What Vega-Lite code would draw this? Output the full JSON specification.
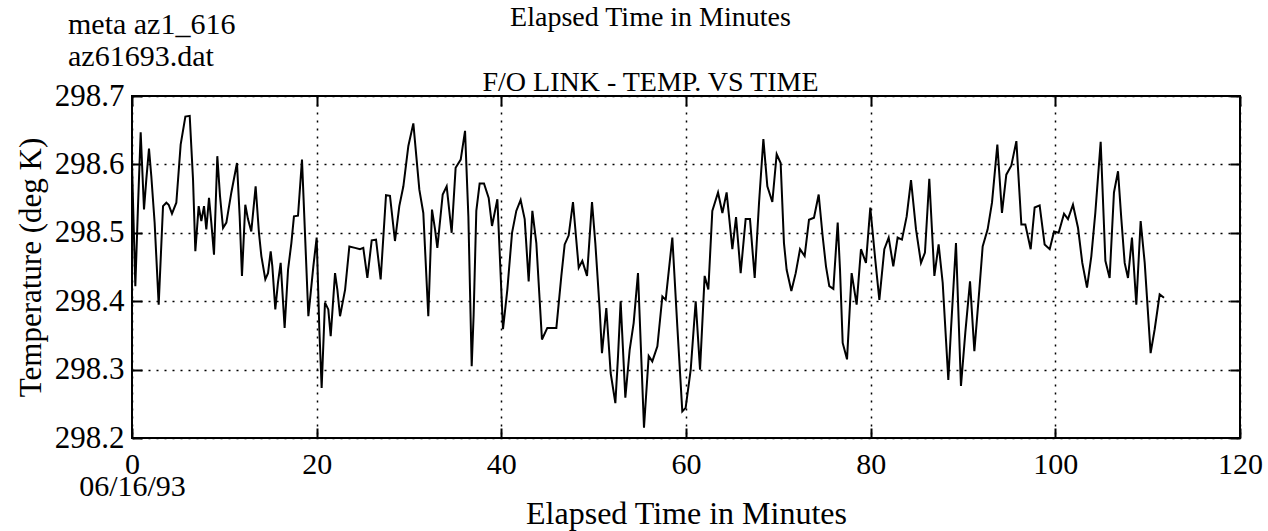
{
  "$schema": "https://vega.github.io/schema/vega-lite/v6.json",
  "autosize": {"type": "none"},
  "width": 1108,
  "height": 342,
  "padding": {"left": 132, "top": 96, "right": 28, "bottom": 93},
  "background": "white",
  "title": {
    "text": ["meta az1_616", "az61693.dat"],
    "anchor": "start",
    "frame": "group",
    "dx": -64,
    "offset": -69,
    "font": "Liberation Serif",
    "fontSize": 30,
    "fontWeight": "normal",
    "lineHeight": 32,
    "color": "black"
  },
  "config": {
    "view": {"stroke": "black", "strokeWidth": 2},
    "axis": {
      "labelFont": "Liberation Serif",
      "titleFont": "Liberation Serif",
      "labelColor": "black",
      "titleColor": "black",
      "titleFontWeight": "normal",
      "domain": false,
      "tickColor": "black",
      "tickWidth": 2,
      "tickSize": -10,
      "gridColor": "black",
      "gridDash": [2, 6],
      "gridWidth": 1.5,
      "gridOpacity": 1
    }
  },
  "data": {
    "values": [
      {"minutes": 0, "temp": 298.600},
      {"minutes": 0.36, "temp": 298.422},
      {"minutes": 0.65, "temp": 298.539},
      {"minutes": 0.94, "temp": 298.647},
      {"minutes": 1.30, "temp": 298.534},
      {"minutes": 1.55, "temp": 298.578},
      {"minutes": 1.84, "temp": 298.623},
      {"minutes": 2.09, "temp": 298.583},
      {"minutes": 2.45, "temp": 298.515},
      {"minutes": 2.89, "temp": 298.395},
      {"minutes": 3.36, "temp": 298.539},
      {"minutes": 3.72, "temp": 298.544},
      {"minutes": 3.97, "temp": 298.541},
      {"minutes": 4.33, "temp": 298.528},
      {"minutes": 4.80, "temp": 298.544},
      {"minutes": 5.27, "temp": 298.629},
      {"minutes": 5.78, "temp": 298.670},
      {"minutes": 6.25, "temp": 298.671},
      {"minutes": 6.61, "temp": 298.578},
      {"minutes": 6.86, "temp": 298.473},
      {"minutes": 7.22, "temp": 298.539},
      {"minutes": 7.51, "temp": 298.517},
      {"minutes": 7.80, "temp": 298.539},
      {"minutes": 8.05, "temp": 298.505},
      {"minutes": 8.34, "temp": 298.551},
      {"minutes": 8.59, "temp": 298.515},
      {"minutes": 8.88, "temp": 298.468},
      {"minutes": 9.24, "temp": 298.612},
      {"minutes": 9.53, "temp": 298.554},
      {"minutes": 9.86, "temp": 298.507},
      {"minutes": 10.22, "temp": 298.515},
      {"minutes": 10.76, "temp": 298.559},
      {"minutes": 11.37, "temp": 298.602},
      {"minutes": 11.66, "temp": 298.524},
      {"minutes": 11.91, "temp": 298.437},
      {"minutes": 12.27, "temp": 298.541},
      {"minutes": 12.56, "temp": 298.520},
      {"minutes": 12.92, "temp": 298.502},
      {"minutes": 13.39, "temp": 298.568},
      {"minutes": 13.75, "temp": 298.500},
      {"minutes": 14.01, "temp": 298.466},
      {"minutes": 14.44, "temp": 298.432},
      {"minutes": 14.73, "temp": 298.441},
      {"minutes": 15.02, "temp": 298.473},
      {"minutes": 15.20, "temp": 298.451},
      {"minutes": 15.52, "temp": 298.388},
      {"minutes": 15.81, "temp": 298.427},
      {"minutes": 16.10, "temp": 298.456},
      {"minutes": 16.53, "temp": 298.361},
      {"minutes": 16.90, "temp": 298.446},
      {"minutes": 17.26, "temp": 298.485},
      {"minutes": 17.54, "temp": 298.524},
      {"minutes": 17.98, "temp": 298.525},
      {"minutes": 18.41, "temp": 298.607},
      {"minutes": 19.10, "temp": 298.378},
      {"minutes": 19.64, "temp": 298.451},
      {"minutes": 20.00, "temp": 298.493},
      {"minutes": 20.29, "temp": 298.359},
      {"minutes": 20.54, "temp": 298.273},
      {"minutes": 20.90, "temp": 298.398},
      {"minutes": 21.26, "temp": 298.388},
      {"minutes": 21.52, "temp": 298.349},
      {"minutes": 21.99, "temp": 298.441},
      {"minutes": 22.24, "temp": 298.417},
      {"minutes": 22.53, "temp": 298.378},
      {"minutes": 23.08, "temp": 298.417},
      {"minutes": 23.54, "temp": 298.480},
      {"minutes": 24.15, "temp": 298.478},
      {"minutes": 24.69, "temp": 298.476},
      {"minutes": 25.05, "temp": 298.478},
      {"minutes": 25.49, "temp": 298.434},
      {"minutes": 25.96, "temp": 298.489},
      {"minutes": 26.43, "temp": 298.490},
      {"minutes": 26.93, "temp": 298.432},
      {"minutes": 27.51, "temp": 298.555},
      {"minutes": 27.94, "temp": 298.554},
      {"minutes": 28.48, "temp": 298.488},
      {"minutes": 28.95, "temp": 298.539},
      {"minutes": 29.39, "temp": 298.568},
      {"minutes": 29.93, "temp": 298.627},
      {"minutes": 30.47, "temp": 298.660},
      {"minutes": 31.12, "temp": 298.563},
      {"minutes": 31.55, "temp": 298.529},
      {"minutes": 32.09, "temp": 298.378},
      {"minutes": 32.49, "temp": 298.534},
      {"minutes": 32.82, "temp": 298.505},
      {"minutes": 33.07, "temp": 298.478},
      {"minutes": 33.65, "temp": 298.556},
      {"minutes": 34.08, "temp": 298.568},
      {"minutes": 34.62, "temp": 298.500},
      {"minutes": 35.05, "temp": 298.595},
      {"minutes": 35.60, "temp": 298.607},
      {"minutes": 36.07, "temp": 298.649},
      {"minutes": 36.43, "temp": 298.524},
      {"minutes": 36.79, "temp": 298.305},
      {"minutes": 37.00, "temp": 298.380},
      {"minutes": 37.29, "temp": 298.532},
      {"minutes": 37.65, "temp": 298.572},
      {"minutes": 38.12, "temp": 298.572},
      {"minutes": 38.63, "temp": 298.551},
      {"minutes": 38.99, "temp": 298.510},
      {"minutes": 39.57, "temp": 298.549},
      {"minutes": 40.18, "temp": 298.359},
      {"minutes": 40.65, "temp": 298.417},
      {"minutes": 41.16, "temp": 298.500},
      {"minutes": 41.62, "temp": 298.532},
      {"minutes": 42.09, "temp": 298.548},
      {"minutes": 42.53, "temp": 298.520},
      {"minutes": 42.96, "temp": 298.429},
      {"minutes": 43.36, "temp": 298.532},
      {"minutes": 43.79, "temp": 298.485},
      {"minutes": 44.40, "temp": 298.344},
      {"minutes": 44.98, "temp": 298.361},
      {"minutes": 45.96, "temp": 298.361},
      {"minutes": 46.50, "temp": 298.437},
      {"minutes": 46.86, "temp": 298.483},
      {"minutes": 47.29, "temp": 298.496},
      {"minutes": 47.76, "temp": 298.545},
      {"minutes": 48.38, "temp": 298.449},
      {"minutes": 48.77, "temp": 298.459},
      {"minutes": 49.28, "temp": 298.437},
      {"minutes": 49.82, "temp": 298.545},
      {"minutes": 50.18, "temp": 298.485},
      {"minutes": 50.65, "temp": 298.388},
      {"minutes": 50.90, "temp": 298.324},
      {"minutes": 51.37, "temp": 298.390},
      {"minutes": 51.84, "temp": 298.295},
      {"minutes": 52.35, "temp": 298.251},
      {"minutes": 52.64, "temp": 298.320},
      {"minutes": 52.92, "temp": 298.400},
      {"minutes": 53.43, "temp": 298.259},
      {"minutes": 53.90, "temp": 298.329},
      {"minutes": 54.33, "temp": 298.368},
      {"minutes": 54.80, "temp": 298.441},
      {"minutes": 55.45, "temp": 298.215},
      {"minutes": 55.96, "temp": 298.320},
      {"minutes": 56.35, "temp": 298.312},
      {"minutes": 56.90, "temp": 298.334},
      {"minutes": 57.44, "temp": 298.407},
      {"minutes": 57.80, "temp": 298.402},
      {"minutes": 58.52, "temp": 298.493},
      {"minutes": 59.06, "temp": 298.363},
      {"minutes": 59.60, "temp": 298.239},
      {"minutes": 59.96, "temp": 298.244},
      {"minutes": 60.51, "temp": 298.300},
      {"minutes": 61.05, "temp": 298.400},
      {"minutes": 61.52, "temp": 298.300},
      {"minutes": 62.02, "temp": 298.437},
      {"minutes": 62.42, "temp": 298.417},
      {"minutes": 62.85, "temp": 298.532},
      {"minutes": 63.47, "temp": 298.559},
      {"minutes": 63.94, "temp": 298.529},
      {"minutes": 64.40, "temp": 298.559},
      {"minutes": 65.02, "temp": 298.476},
      {"minutes": 65.42, "temp": 298.523},
      {"minutes": 65.92, "temp": 298.441},
      {"minutes": 66.46, "temp": 298.520},
      {"minutes": 66.93, "temp": 298.520},
      {"minutes": 67.44, "temp": 298.434},
      {"minutes": 67.91, "temp": 298.544},
      {"minutes": 68.38, "temp": 298.637},
      {"minutes": 68.81, "temp": 298.568},
      {"minutes": 69.35, "temp": 298.545},
      {"minutes": 69.82, "temp": 298.615},
      {"minutes": 70.25, "temp": 298.602},
      {"minutes": 70.61, "temp": 298.485},
      {"minutes": 70.90, "temp": 298.446},
      {"minutes": 71.41, "temp": 298.415},
      {"minutes": 71.88, "temp": 298.441},
      {"minutes": 72.35, "temp": 298.476},
      {"minutes": 72.85, "temp": 298.466},
      {"minutes": 73.32, "temp": 298.519},
      {"minutes": 73.86, "temp": 298.522},
      {"minutes": 74.37, "temp": 298.556},
      {"minutes": 74.80, "temp": 298.495},
      {"minutes": 75.16, "temp": 298.451},
      {"minutes": 75.52, "temp": 298.422},
      {"minutes": 75.96, "temp": 298.418},
      {"minutes": 76.43, "temp": 298.515},
      {"minutes": 76.68, "temp": 298.446},
      {"minutes": 76.97, "temp": 298.339},
      {"minutes": 77.44, "temp": 298.315},
      {"minutes": 77.94, "temp": 298.441},
      {"minutes": 78.48, "temp": 298.395},
      {"minutes": 78.95, "temp": 298.476},
      {"minutes": 79.49, "temp": 298.456},
      {"minutes": 79.96, "temp": 298.537},
      {"minutes": 80.51, "temp": 298.459},
      {"minutes": 80.94, "temp": 298.402},
      {"minutes": 81.48, "temp": 298.476},
      {"minutes": 81.95, "temp": 298.493},
      {"minutes": 82.45, "temp": 298.451},
      {"minutes": 82.92, "temp": 298.493},
      {"minutes": 83.39, "temp": 298.490},
      {"minutes": 83.90, "temp": 298.524},
      {"minutes": 84.37, "temp": 298.577},
      {"minutes": 84.91, "temp": 298.505},
      {"minutes": 85.45, "temp": 298.456},
      {"minutes": 85.88, "temp": 298.471},
      {"minutes": 86.35, "temp": 298.579},
      {"minutes": 86.90, "temp": 298.437},
      {"minutes": 87.36, "temp": 298.483},
      {"minutes": 87.80, "temp": 298.427},
      {"minutes": 88.41, "temp": 298.285},
      {"minutes": 88.70, "temp": 298.359},
      {"minutes": 89.24, "temp": 298.485},
      {"minutes": 89.78, "temp": 298.276},
      {"minutes": 90.25, "temp": 298.354},
      {"minutes": 90.76, "temp": 298.429},
      {"minutes": 91.23, "temp": 298.327},
      {"minutes": 91.77, "temp": 298.417},
      {"minutes": 92.13, "temp": 298.480},
      {"minutes": 92.67, "temp": 298.505},
      {"minutes": 93.14, "temp": 298.544},
      {"minutes": 93.72, "temp": 298.629},
      {"minutes": 94.22, "temp": 298.529},
      {"minutes": 94.69, "temp": 298.585},
      {"minutes": 95.23, "temp": 298.598},
      {"minutes": 95.78, "temp": 298.634},
      {"minutes": 96.32, "temp": 298.512},
      {"minutes": 96.75, "temp": 298.512},
      {"minutes": 97.33, "temp": 298.476},
      {"minutes": 97.76, "temp": 298.537},
      {"minutes": 98.30, "temp": 298.540},
      {"minutes": 98.84, "temp": 298.483},
      {"minutes": 99.39, "temp": 298.476},
      {"minutes": 99.86, "temp": 298.502},
      {"minutes": 100.36, "temp": 298.500},
      {"minutes": 100.94, "temp": 298.528},
      {"minutes": 101.37, "temp": 298.520},
      {"minutes": 101.91, "temp": 298.541},
      {"minutes": 102.46, "temp": 298.507},
      {"minutes": 102.92, "temp": 298.456},
      {"minutes": 103.43, "temp": 298.420},
      {"minutes": 103.90, "temp": 298.466},
      {"minutes": 104.33, "temp": 298.529},
      {"minutes": 104.91, "temp": 298.633},
      {"minutes": 105.42, "temp": 298.459},
      {"minutes": 105.88, "temp": 298.434},
      {"minutes": 106.35, "temp": 298.559},
      {"minutes": 106.79, "temp": 298.590},
      {"minutes": 107.15, "temp": 298.520},
      {"minutes": 107.51, "temp": 298.456},
      {"minutes": 107.87, "temp": 298.434},
      {"minutes": 108.30, "temp": 298.493},
      {"minutes": 108.77, "temp": 298.395},
      {"minutes": 109.24, "temp": 298.517},
      {"minutes": 109.68, "temp": 298.456},
      {"minutes": 110.32, "temp": 298.324},
      {"minutes": 110.76, "temp": 298.359},
      {"minutes": 111.30, "temp": 298.410},
      {"minutes": 111.77, "temp": 298.405}
    ]
  },
  "layer": [
    {
      "mark": {"type": "line", "color": "black", "strokeWidth": 2, "clip": true},
      "encoding": {
        "x": {
          "field": "minutes",
          "type": "quantitative",
          "scale": {"domain": [0, 120], "nice": false, "zero": false},
          "axis": {
            "orient": "bottom",
            "values": [0, 20, 40, 60, 80, 100, 120],
            "title": "Elapsed Time in Minutes",
            "titleFontSize": 32,
            "titlePadding": -3,
            "labelFontSize": 30,
            "labelPadding": 21,
            "labelLineHeight": 22,
            "labelFlush": false,
            "labelOverlap": false,
            "labelExpr": "datum.value == 0 ? ['0', '06/16/93\u00a0\u00a0\u00a0\u00a0'] : datum.label",
            "grid": true
          }
        },
        "y": {
          "field": "temp",
          "type": "quantitative",
          "scale": {"domain": [298.2, 298.7], "nice": false, "zero": false},
          "axis": {
            "orient": "left",
            "values": [298.2, 298.3, 298.4, 298.5, 298.6, 298.7],
            "format": ".1f",
            "title": "Temperature (deg K)",
            "titleFontSize": 31,
            "titlePadding": 7,
            "labelFontSize": 31,
            "labelPadding": 18,
            "labelFlush": false,
            "labelOverlap": false,
            "grid": true
          }
        }
      }
    },
    {
      "mark": {"type": "line", "color": "black", "strokeWidth": 2, "strokeOpacity": 0},
      "encoding": {
        "x": {
          "field": "minutes",
          "type": "quantitative",
          "axis": {
            "orient": "top",
            "values": [0, 20, 40, 60, 80, 100, 120],
            "labels": false,
            "grid": false,
            "title": ["Elapsed Time in Minutes", "F/O LINK - TEMP. VS TIME"],
            "titleFontSize": 28,
            "titleLineHeight": 65,
            "titleX": 518,
            "titleY": -71,
            "titleBaseline": "alphabetic",
            "titleAlign": "center"
          }
        },
        "y": {
          "field": "temp",
          "type": "quantitative",
          "axis": {
            "orient": "right",
            "values": [298.2, 298.3, 298.4, 298.5, 298.6, 298.7],
            "labels": false,
            "grid": false,
            "title": null
          }
        }
      }
    }
  ],
  "resolve": {"axis": {"x": "independent", "y": "independent"}}
}
